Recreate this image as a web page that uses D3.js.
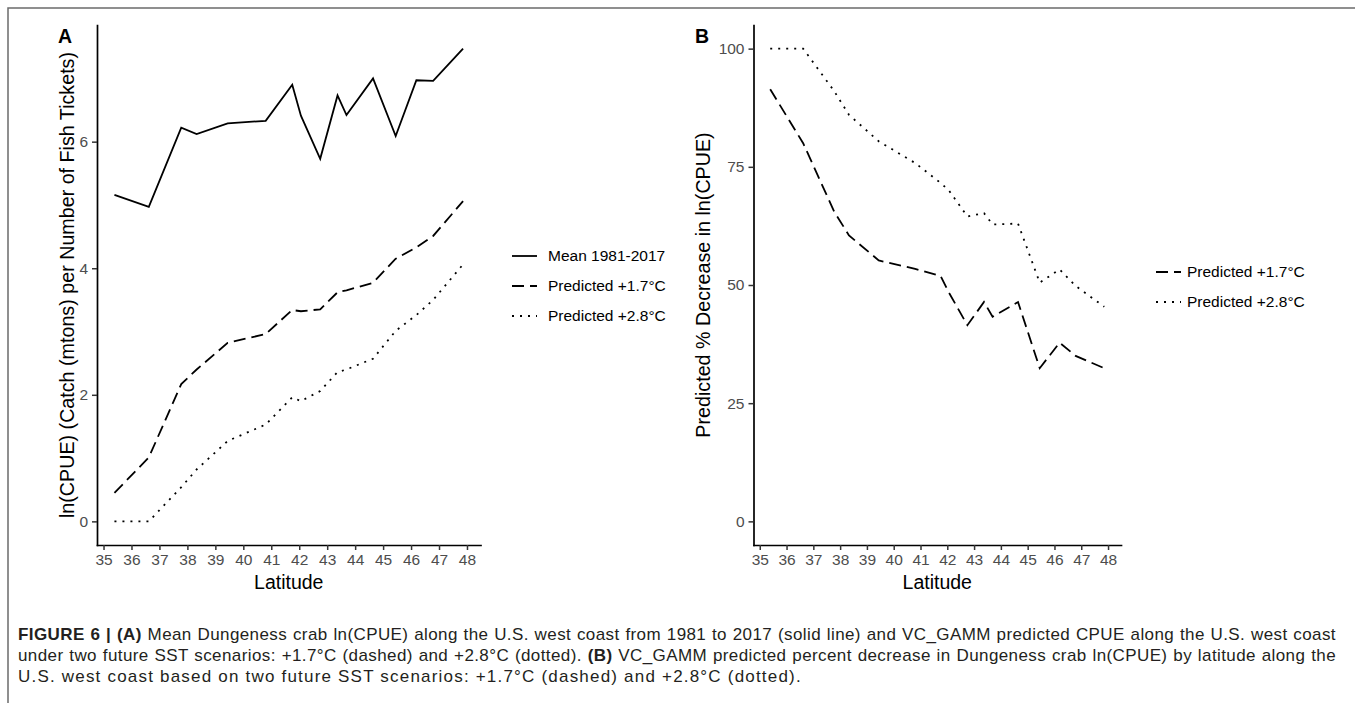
<!DOCTYPE html>
<html>
<head>
<meta charset="utf-8">
<script src="https://cdn.jsdelivr.net/npm/d3@7"></script>
<style>
  body { margin: 0; background: #fff; }
  #chart { position: absolute; left: 0; top: 0; }
  .caption {
    position: absolute; left: 18px; width: 1318px; height: 21px; line-height: 21px;
    font-family: "Liberation Sans Narrow", "Liberation Sans", Arial, sans-serif;
    font-size: 17px; color: #231f20; letter-spacing: 0.4px; white-space: nowrap;
  }
  .caption.just { text-align: justify; text-align-last: justify; }
  .caption.last { letter-spacing: 1.2px; }
  .caption b { font-weight: bold; }
</style>
</head>
<body>
<div id="chart"></div>
<div class="caption just" style="top:624px"><b>FIGURE 6 | (A)</b> Mean Dungeness crab ln(CPUE) along the U.S. west coast from 1981 to 2017 (solid line) and VC_GAMM predicted CPUE along the U.S. west coast</div>
<div class="caption just" style="top:645px">under two future SST scenarios: +1.7°C (dashed) and +2.8°C (dotted). <b>(B)</b> VC_GAMM predicted percent decrease in Dungeness crab ln(CPUE) by latitude along the</div>
<div class="caption last" style="top:666px">U.S. west coast based on two future SST scenarios: +1.7°C (dashed) and +2.8°C (dotted).</div>
<script>
// values
const latitude   = [35.39, 36.62, 37.78, 38.33, 39.44, 40.80, 41.75, 42.06, 42.75, 43.37, 43.69, 44.64, 45.45, 46.19, 46.79, 47.86];
const meanCpue   = [5.16, 4.97, 6.22, 6.12, 6.29, 6.33, 6.90, 6.41, 5.73, 6.73, 6.42, 7.00, 6.09, 6.97, 6.96, 7.47];
const pred17     = [0.45, 1.01, 2.17, 2.40, 2.82, 2.96, 3.34, 3.32, 3.35, 3.62, 3.65, 3.77, 4.15, 4.33, 4.51, 5.06];
const pred28     = [0.00, 0.00, 0.54, 0.82, 1.27, 1.53, 1.96, 1.90, 2.06, 2.36, 2.40, 2.57, 3.01, 3.26, 3.50, 4.06];
const decrease17 = [91.4, 80.0, 65.5, 60.5, 55.2, 53.4, 51.9, 48.4, 41.5, 46.4, 43.3, 46.4, 32.4, 37.8, 35.0, 32.4];
const decrease28 = [100, 100, 91.0, 86.0, 80.4, 75.8, 71.6, 70.0, 64.5, 65.2, 62.8, 63.0, 50.5, 53.3, 49.8, 45.4];

const xTicks  = [35, 36, 37, 38, 39, 40, 41, 42, 43, 44, 45, 46, 47, 48];
const yTicksA = [0, 2, 4, 6];
const yTicksB = [0, 25, 50, 75, 100];
const labelsA = ['Mean 1981-2017', 'Predicted +1.7°C', 'Predicted +2.8°C'];
const labelsB = ['Predicted +1.7°C', 'Predicted +2.8°C'];

document.addEventListener('DOMContentLoaded', () => {
    const font = '"Liberation Sans", Arial, sans-serif';
    const dashes = { solid: null, dashed: '12,6', dotted: '2,6' };

    const svg = d3.select('#chart').append('svg')
        .attr('width', 1355)
        .attr('height', 703);

    // page frame
    svg.append('path')
        .attr('d', 'M8,703V8H1355')
        .attr('fill', 'none')
        .attr('stroke', '#6b6b6b')
        .attr('stroke-width', 1.5);

    // ggplot-like 5% expansion
    const expand = (lo, hi) => {
        const pad = (hi - lo) * 0.05;
        return [lo - pad, hi + pad];
    };

    const top = 25, bottom = 545;

    const drawPanel = (p) => {
        const x = d3.scaleLinear()
            .domain(expand(d3.min(latitude), d3.max(latitude)))
            .range([p.left, p.right]);
        const y = d3.scaleLinear()
            .domain(p.yDomain)
            .range([bottom, top]);

        const g = svg.append('g');

        const styleAxis = (ax) => {
            ax.select('.domain')
                .attr('stroke', '#000')
                .attr('stroke-width', 1.7)
                .attr('stroke-linecap', 'square');
            ax.selectAll('.tick line')
                .attr('stroke', '#333')
                .attr('stroke-width', 1.5);
            ax.selectAll('.tick text')
                .attr('fill', '#4d4d4d')
                .style('font-family', font)
                .style('font-size', '15.5px');
        };

        g.append('g')
            .attr('transform', `translate(0,${bottom})`)
            .call(d3.axisBottom(x).tickValues(xTicks).tickFormat(d3.format('d'))
                .tickSize(5).tickSizeOuter(0).tickPadding(4))
            .call(styleAxis);

        g.append('g')
            .attr('transform', `translate(${p.left},0)`)
            .call(d3.axisLeft(y).tickValues(p.yTicks).tickFormat(d3.format('d'))
                .tickSize(5).tickSizeOuter(0).tickPadding(4))
            .call(styleAxis);

        // axis titles
        g.append('text')
            .attr('x', (p.left + p.right) / 2)
            .attr('y', 589)
            .attr('text-anchor', 'middle')
            .style('font-family', font)
            .style('font-size', '19.5px')
            .text('Latitude');

        g.append('text')
            .attr('transform', `translate(${p.titleX},${(top + bottom) / 2}) rotate(-90)`)
            .attr('text-anchor', 'middle')
            .style('font-family', font)
            .style('font-size', '19.7px')
            .text(p.yTitle);

        // panel letter
        g.append('text')
            .attr('x', p.tagX)
            .attr('y', 43)
            .style('font-family', font)
            .style('font-size', '19.5px')
            .style('font-weight', 'bold')
            .text(p.tag);

        const line = d3.line()
            .x((d, i) => x(latitude[i]))
            .y(d => y(d));

        p.series.forEach(s => {
            g.append('path')
                .datum(s.values)
                .attr('d', line)
                .attr('fill', 'none')
                .attr('stroke', '#000')
                .attr('stroke-width', 1.8)
                .attr('stroke-dasharray', dashes[s.type]);
        });

        // legend
        const leg = g.append('g');
        p.series.forEach((s, i) => {
            const ly = p.legY + i * 30;
            leg.append('line')
                .attr('x1', p.legX).attr('x2', p.legX + 25)
                .attr('y1', ly).attr('y2', ly)
                .attr('stroke', '#000')
                .attr('stroke-width', 1.8)
                .attr('stroke-dasharray', dashes[s.type]);
            leg.append('text')
                .attr('x', p.legTextX)
                .attr('y', ly)
                .attr('dy', '0.35em')
                .style('font-family', font)
                .style('font-size', '15.5px')
                .text(s.label);
        });
    };

    drawPanel({
        tag: 'A', tagX: 58,
        left: 97, right: 480.5,
        yDomain: expand(0, d3.max(meanCpue)),
        yTicks: yTicksA,
        titleX: 74,
        yTitle: 'ln(CPUE) (Catch (mtons) per Number of Fish Tickets)',
        legX: 512, legTextX: 548, legY: 256,
        series: [
            { label: labelsA[0], values: meanCpue, type: 'solid' },
            { label: labelsA[1], values: pred17, type: 'dashed' },
            { label: labelsA[2], values: pred28, type: 'dotted' }
        ]
    });

    drawPanel({
        tag: 'B', tagX: 695,
        left: 753.5, right: 1121,
        yDomain: expand(0, 100),
        yTicks: yTicksB,
        titleX: 709.5,
        yTitle: 'Predicted % Decrease in ln(CPUE)',
        legX: 1156, legTextX: 1187, legY: 272,
        series: [
            { label: labelsB[0], values: decrease17, type: 'dashed' },
            { label: labelsB[1], values: decrease28, type: 'dotted' }
        ]
    });
});
</script>
</body>
</html>
